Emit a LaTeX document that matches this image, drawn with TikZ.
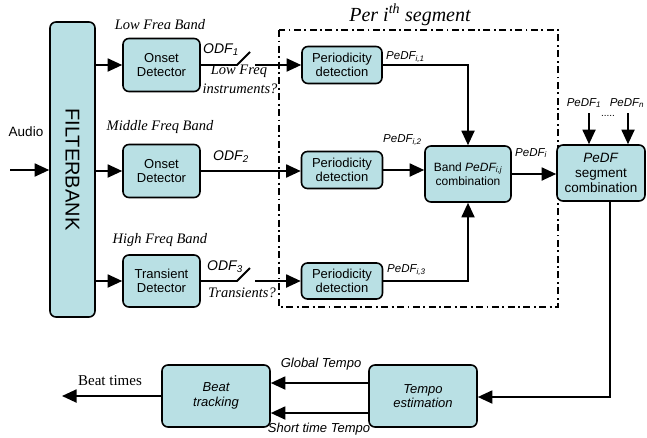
\documentclass[tikz,border=0pt]{standalone}
\usepackage{fontspec}
\setmainfont{Liberation Serif}
\setsansfont{Liberation Sans}
\usetikzlibrary{arrows.meta}
\definecolor{boxfill}{RGB}{185,224,228}
\begin{document}
\begin{tikzpicture}[x=1pt,y=-1pt,
  blk/.style={draw=black, line width=1.6pt, fill=boxfill, rounded corners=6pt, align=center, inner sep=0pt,
    font=\sffamily\fontsize{13}{14.5}\selectfont},
  arr/.style={line width=1.8pt, -{Triangle[length=14.5pt,width=13pt]}},
  ln/.style={line width=1.8pt},
  band/.style={font=\rmfamily\itshape\fontsize{14.5}{15}\selectfont, inner sep=0pt},
  lab/.style={font=\sffamily\itshape\fontsize{13}{14}\selectfont, inner sep=0pt},
  plab/.style={font=\sffamily\itshape\fontsize{11.5}{12}\selectfont, inner sep=0pt, anchor=west}]
\useasboundingbox (0,0) rectangle (647,437);

% dash-dot segment box
\draw[line width=1.6pt, dash pattern=on 7pt off 3.5pt on 1.8pt off 3.5pt] (279,30) rectangle (558,307);
\node[font=\rmfamily\itshape\fontsize{20}{20}\selectfont, inner sep=0pt] (seglab) at (410,15) {Per i\textsuperscript{th} segment};

% blocks
\node[blk, minimum width=45pt, minimum height=295pt] (fb) at (72.5,169.5) {};
\node[rotate=-90, font=\sffamily\fontsize{20}{20}\selectfont, inner sep=0pt] (fbt) at (fb.center) {FILTERBANK};
\node[blk, minimum width=77pt, minimum height=53pt] (od1) at (161.5,65) {Onset\\Detector};
\node[blk, minimum width=77pt, minimum height=53pt] (od2) at (161.5,171) {Onset\\Detector};
\node[blk, minimum width=77pt, minimum height=52pt] (td) at (161.5,281) {Transient\\Detector};
\node[blk, minimum width=80pt, minimum height=37pt] (pd1) at (342,65) {Periodicity\\detection};
\node[blk, minimum width=81pt, minimum height=37pt] (pd2) at (342,170) {Periodicity\\detection};
\node[blk, minimum width=81pt, minimum height=36pt] (pd3) at (342,281) {Periodicity\\detection};
\node[blk, minimum width=86pt, minimum height=56pt, font=\sffamily\fontsize{12}{14.5}\selectfont] (bd) at (468,174)
  {Band \textit{PeDF\textsubscript{i,j}}\\combination};
\node[blk, minimum width=88pt, minimum height=56pt, font=\sffamily\fontsize{13.5}{15}\selectfont] (seg) at (601,173)
  {\textit{PeDF}\\segment\\combination};
\node[blk, minimum width=108pt, minimum height=62pt, font=\sffamily\itshape\fontsize{13}{14.5}\selectfont] (te) at (423,396)
  {Tempo\\estimation};
\node[blk, minimum width=108pt, minimum height=62pt, font=\sffamily\itshape\fontsize{13}{14.5}\selectfont] (bt) at (216,396)
  {Beat\\tracking};

% labels
\node[band] (l1) at (160,25) {Low Frea Band};
\node[band] (l2) at (160,127) {Middle Freq Band};
\node[band] (l3) at (160,240) {High Freq Band};
\node[font=\sffamily\fontsize{13.5}{14}\selectfont, inner sep=0pt] (aud) at (26,132) {Audio};
\node[lab, anchor=west, font=\sffamily\itshape\fontsize{14}{14}\selectfont] (odf1) at (203,50) {ODF\textsubscript{1}};
\node[lab, anchor=west, font=\sffamily\itshape\fontsize{14}{14}\selectfont] (odf2) at (213,157) {ODF\textsubscript{2}};
\node[lab, anchor=west, font=\sffamily\itshape\fontsize{14}{14}\selectfont] (odf3) at (207,267) {ODF\textsubscript{3}};
\node[band] (lf1) at (239,71) {Low Freq};
\node[band] (lf2) at (240,89) {instruments?};
\node[band] (trq) at (242,293) {Transients?};
\node[plab] (p1) at (386,57) {PeDF\textsubscript{i,1}};
\node[plab] (p2) at (383,140) {PeDF\textsubscript{i,2}};
\node[plab] (p3) at (387,270) {PeDF\textsubscript{i,3}};
\node[plab] (pi) at (515,153) {PeDF\textsubscript{i}};
\node[plab, anchor=center] (pf1) at (584,103) {PeDF\textsubscript{1}};
\node[plab, anchor=center] (pfn) at (627,103) {PeDF\textsubscript{n}};
\node[font=\sffamily\fontsize{10}{10}\selectfont, inner sep=0pt] (dots) at (608,116) {.....};
\node[font=\rmfamily\fontsize{15}{15}\selectfont, inner sep=0pt] (btm) at (110,381) {Beat times};
\node[lab] (gt) at (321,364) {Global Tempo};
\node[lab] (st) at (319,429) {Short time Tempo};

% connectors
\coordinate (ain) at (10,170);
\draw[arr] (ain) -- (ain -| fb.west);
\draw[arr] (fb.east |- od1.west) -- (od1.west);
\draw[arr] (fb.east |- od2.west) -- (od2.west);
\draw[arr] (fb.east |- td.west) -- (td.west);

\coordinate (s1a) at (237,65);
\coordinate (s1b) at (250,52);
\coordinate (s1c) at (255,65);
\draw[ln] (od1.east) -- (s1a) -- (s1b);
\draw[arr] (s1c) -- (pd1.west);

\draw[arr] (od2.east) -- (od2.east -| pd2.west);

\coordinate (s3a) at (237,281);
\coordinate (s3b) at (250,268);
\coordinate (s3c) at (255,281);
\draw[ln] (td.east) -- (s3a) -- (s3b);
\draw[arr] (s3c) -- (pd3.west);

\draw[arr] (pd1.east) -| (bd.north);
\draw[arr] (pd2.east) -- (pd2.east -| bd.west);
\draw[arr] (pd3.east) -| (bd.south);
\draw[arr] (bd.east) -- (bd.east -| seg.west);

\coordinate (n1) at (589,113);
\coordinate (nn) at (628,113);
\draw[arr] (n1) -- (n1 |- seg.north);
\draw[arr] (nn) -- (nn |- seg.north);

\coordinate (sdn) at (610,200);
\coordinate (scr) at (610,397);
\draw[arr] (sdn) -- (scr) -- (scr -| te.east);

\coordinate (g1) at (369,383);
\coordinate (g2) at (369,413);
\draw[arr] (g1) -- (g1 -| bt.east);
\draw[arr] (g2) -- (g2 -| bt.east);

\coordinate (bout) at (62,396);
\draw[arr] (bt.west) -- (bout);
\end{tikzpicture}
\end{document}
